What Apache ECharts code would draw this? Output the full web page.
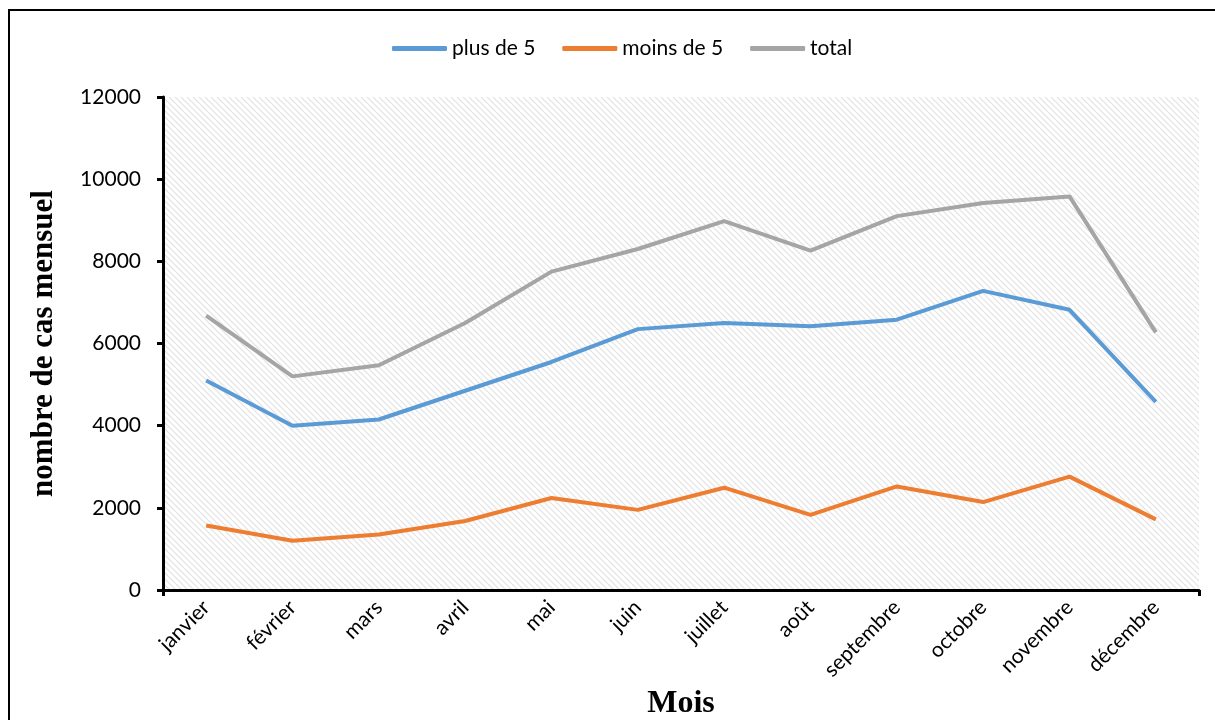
<!DOCTYPE html>
<html>
<head>
<meta charset="utf-8">
<script src="https://cdn.jsdelivr.net/npm/echarts@6/dist/echarts.min.js"></script>
<style>
  html, body { margin: 0; padding: 0; background: #fff; }
  #chart { width: 1215px; height: 720px; }
</style>
</head>
<body>
<div id="chart"></div>
<script>
// Monthly case counts
const months = ['janvier', 'février', 'mars', 'avril', 'mai', 'juin', 'juillet', 'août', 'septembre', 'octobre', 'novembre', 'décembre'];
const plusDe5 = [5100, 4000, 4150, 4850, 5550, 6350, 6500, 6420, 6580, 7280, 6820, 4580];
const moinsDe5 = [1570, 1200, 1350, 1680, 2240, 1950, 2490, 1830, 2520, 2140, 2760, 1720];
const total = [6680, 5200, 5470, 6500, 7750, 8300, 8980, 8260, 9100, 9420, 9580, 6270];
const yTicks = { min: 0, max: 12000, interval: 2000 };

// Diagonal hatch used as the plot background
function hatchPattern() {
  const s = 6;
  const c = document.createElement('canvas');
  c.width = s; c.height = s;
  const g = c.getContext('2d');
  g.fillStyle = '#ffffff';
  g.fillRect(0, 0, s, s);
  g.strokeStyle = '#e2e2e2';
  g.lineWidth = 1.2;
  g.beginPath();
  g.moveTo(-1, -1); g.lineTo(s + 1, s + 1);
  g.moveTo(-1, s - 1); g.lineTo(1, s + 1);
  g.moveTo(s - 1, -1); g.lineTo(s + 1, 1);
  g.stroke();
  return c;
}

const chart = echarts.init(document.getElementById('chart'), null, { renderer: 'canvas' });
const labelFont = 'Lato, "Open Sans", sans-serif';
const titleFont = '"Liberation Serif", "DejaVu Serif", serif';

chart.setOption({
  animation: false,
  graphic: [{
    type: 'rect',
    shape: { x: 9, y: 10, width: 1240, height: 760 },
    style: { fill: 'none', stroke: '#000', lineWidth: 2 },
    silent: true,
    z: 100
  }],
  legend: {
    top: 33,
    left: 387,
    icon: 'roundRect',
    itemWidth: 55,
    itemHeight: 5,
    itemGap: 27,
    textStyle: { fontFamily: labelFont, fontSize: 21, color: '#000' },
    data: ['plus de 5', 'moins de 5', 'total']
  },
  grid: {
    left: 163, right: 16, top: 97, bottom: 130,
    outerBoundsMode: 'none',
    show: true,
    borderWidth: 0,
    backgroundColor: { image: hatchPattern(), repeat: 'repeat' }
  },
  xAxis: [{
    type: 'category',
    data: months,
    boundaryGap: true,
    name: 'Mois',
    nameLocation: 'middle',
    nameGap: 96,
    nameTextStyle: { fontFamily: titleFont, fontWeight: 'bold', fontSize: 32, color: '#000' },
    axisLine: { lineStyle: { color: '#000', width: 3 } },
    axisTick: { alignWithLabel: true, length: 6, lineStyle: { color: '#000', width: 3 } },
    axisLabel: { rotate: 45, margin: 14, interval: 0, fontFamily: labelFont, fontSize: 21, color: '#000' },
    splitLine: { show: false }
  }, {
    // end ticks at both edges of the horizontal axis
    type: 'value',
    min: 0, max: 1, interval: 1,
    position: 'bottom',
    axisLine: { show: false },
    axisTick: { show: true, length: 6, lineStyle: { color: '#000', width: 3 } },
    axisLabel: { show: false },
    splitLine: { show: false }
  }],
  yAxis: {
    type: 'value',
    min: yTicks.min, max: yTicks.max, interval: yTicks.interval,
    name: 'nombre de cas mensuel',
    nameLocation: 'middle',
    nameGap: 104,
    nameTextStyle: { fontFamily: titleFont, fontWeight: 'bold', fontSize: 31, color: '#000' },
    axisLine: { show: true, lineStyle: { color: '#000', width: 3 } },
    axisTick: { show: true, length: 6, lineStyle: { color: '#000', width: 3 } },
    axisLabel: { margin: 22, fontFamily: labelFont, fontSize: 21, color: '#000', formatter: v => String(v) },
    splitLine: { show: false }
  },
  series: [
    { name: 'plus de 5', type: 'line', data: plusDe5, symbol: 'none', color: '#5b9bd5', lineStyle: { width: 4, color: '#5b9bd5' }, z: 3 },
    { name: 'moins de 5', type: 'line', data: moinsDe5, symbol: 'none', color: '#ed7d31', lineStyle: { width: 4, color: '#ed7d31' }, z: 3 },
    { name: 'total', type: 'line', data: total, symbol: 'none', color: '#a5a5a5', lineStyle: { width: 4, color: '#a5a5a5' }, z: 3 }
  ]
});
</script>
</body>
</html>
